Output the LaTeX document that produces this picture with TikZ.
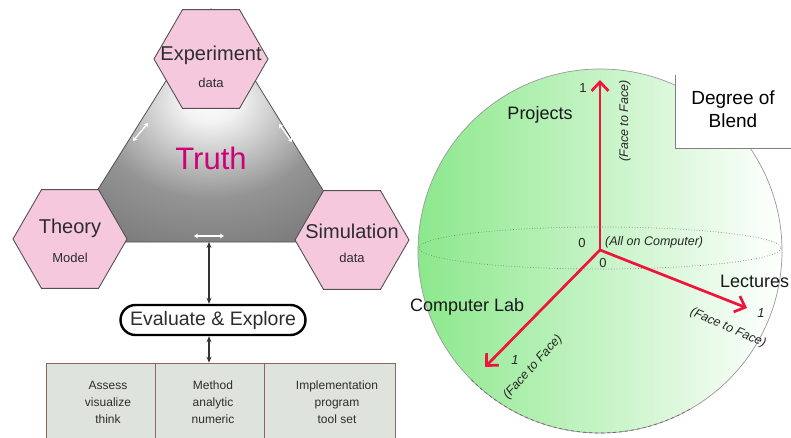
\documentclass[tikz,border=0pt]{standalone}
\usepackage{fontspec}
\setmainfont{Liberation Sans}
\usetikzlibrary{shapes.geometric,arrows.meta}
\definecolor{hexpink}{RGB}{246,200,222}
\definecolor{hexedge}{RGB}{85,80,85}
\definecolor{truthmag}{RGB}{205,0,120}
\definecolor{tblfill}{RGB}{222,228,220}
\definecolor{tbledge}{RGB}{140,100,100}
\definecolor{axred}{RGB}{240,20,60}
\definecolor{sgreen}{RGB}{140,232,140}
\definecolor{txt}{RGB}{45,45,45}
\pgfdeclareradialshading{truthshade}{\pgfpoint{0bp}{6bp}}{color(0bp)=(white); color(5bp)=(black!5); color(20bp)=(black!42); color(40bp)=(black!58); color(55bp)=(black!68); color(72bp)=(black!78)}
\tikzset{
  hexa/.style={regular polygon, regular polygon sides=6, minimum size=114pt, inner sep=0pt, fill=hexpink, draw=hexedge, line width=0.9pt},
  bigtxt/.style={font=\fontsize{20}{22}\selectfont, text=txt, inner sep=0pt},
  smalltxt/.style={font=\fontsize{13}{15}\selectfont, text=txt, inner sep=0pt},
  tblbox/.style={rectangle, fill=tblfill, draw=tbledge, line width=0.7pt, minimum height=82pt, inner sep=0pt},
  tbltxt/.style={font=\fontsize{12}{17}\selectfont, text=txt, align=center, inner sep=0pt},
  whitearr/.style={white, line width=1.3pt, {Stealth[length=4pt,width=5pt]}-{Stealth[length=4pt,width=5pt]}},
  blackarr/.style={black!80, line width=1.1pt, {Stealth[length=6pt,width=5pt]}-{Stealth[length=6pt,width=5pt]}},
  axisarr/.style={axred, line width=2.7pt, -{Straight Barb[length=9pt,width=17pt]}},
  rtxt/.style={font=\fontsize{18}{20}\selectfont, text=black!90, inner sep=0pt},
  rsmall/.style={font=\fontsize{12.5}{14}\selectfont\itshape, text=black!85, inner sep=0pt},
  rnum/.style={font=\fontsize{13}{14}\selectfont, text=black!85, inner sep=0pt}
}
\begin{document}
\begin{tikzpicture}[x=1pt,y=-1pt]
\useasboundingbox (0,0) rectangle (791,438);
% ---------- left: triangle ----------
\path[shade, shading=truthshade, draw=hexedge, line width=0.8pt] (211,9) -- (65,242) -- (355,242) -- cycle;
\coordinate (tribot) at (209,242);
\node[font=\fontsize{31}{33}\selectfont, text=truthmag, inner sep=0pt] (truth) at (211,158) {Truth};
\node[hexa] (exp) at (211,59) {};
\node[hexa] (theo) at (70,239) {};
\node[hexa] (sim) at (352,240) {};
\node[bigtxt] (expL) at (211,55) {Experiment};
\node[smalltxt] (expD) at (211,83) {data};
\node[bigtxt] (theoL) at (70,228) {Theory};
\node[smalltxt] (theoD) at (70,258) {Model};
\node[bigtxt] (simL) at (352,231) {Simulation};
\node[smalltxt] (simD) at (352,258) {data};
% white double arrows
\coordinate (wl1) at (133,141); \coordinate (wl2) at (148,123);
\coordinate (wr1) at (279,124); \coordinate (wr2) at (292,142);
\coordinate (wb1) at (194,236); \coordinate (wb2) at (224,236);
\draw[whitearr] (wl1) -- (wl2);
\draw[whitearr] (wr1) -- (wr2);
\draw[whitearr] (wb1) -- (wb2);
% evaluate
\node[draw=black, line width=2.4pt, rounded corners=15pt, minimum width=185pt, minimum height=30pt, inner sep=0pt, font=\fontsize{19.5}{21}\selectfont, text=txt] (eval) at (213,320) {Evaluate \& Explore};
\draw[blackarr] (tribot) -- (eval.north -| tribot);
% table
\node[tblbox, minimum width=109pt] (tb1) at (100.5,404) {};
\node[tblbox, minimum width=109pt] (tb2) at (209.5,404) {};
\node[tblbox, minimum width=131pt] (tb3) at (329.5,404) {};
\draw[blackarr] (eval.south -| tribot) -- (tb2.north -| tribot);
\node[tbltxt] (tt1) at (108,402) {Assess\\visualize\\think};
\node[tbltxt] (tt2) at (213,402) {Method\\analytic\\numeric};
\node[tbltxt] (tt3) at (337,402) {Implementation\\program\\tool set};
% ---------- right: sphere ----------
\draw[gray!80, line width=0.7pt, left color=sgreen, right color=white] (600,251) circle[radius=182];
\draw[black!60, dashed, line width=0.7pt] (600,251) ++(135:182) arc[start angle=135, end angle=60, radius=182];
\draw[gray, dotted, line width=0.7pt] (600,248) ellipse[x radius=181, y radius=21];
\node[fill=white, minimum width=120pt, minimum height=73pt, inner sep=0pt] (blendbox) at (736,111.5) {};
\draw[gray, line width=0.8pt] (blendbox.north west) -- (blendbox.south west) -- (blendbox.south east);
\node[font=\fontsize{19}{23}\selectfont, align=center, inner sep=0pt] (blend) at (733,109) {Degree of\\Blend};
\coordinate (o) at (600,250);
\coordinate (pup) at (600,80);
\coordinate (pll) at (485,367);
\coordinate (prr) at (747,308);
\draw[axisarr] (o) -- (pup);
\draw[axisarr] (o) -- (pll);
\draw[axisarr] (o) -- (prr);
\node[rnum] (n1) at (583,88) {1};
\node[rtxt] (proj) at (540,115) {Projects};
\node[rsmall, rotate=90] (f1) at (625,121) {(Face to Face)};
\node[rnum] (z1) at (582,243) {0};
\node[rsmall, anchor=west] (allc) at (605,242) {(All on Computer)};
\node[rnum] (z2) at (603,263) {0};
\node[rtxt, anchor=west] (lect) at (720,281) {Lectures};
\node[rnum, font=\fontsize{13}{14}\selectfont\itshape] (n2) at (761,313) {1};
\node[rsmall, rotate=-24] (f2) at (728,328) {(Face to Face)};
\node[rtxt, anchor=west] (clab) at (410,307) {Computer Lab};
\node[rnum, font=\fontsize{13}{14}\selectfont\itshape] (n3) at (515,360) {1};
\node[rsmall, rotate=48] (f3) at (533,367) {(Face to Face)};
\end{tikzpicture}
\end{document}
